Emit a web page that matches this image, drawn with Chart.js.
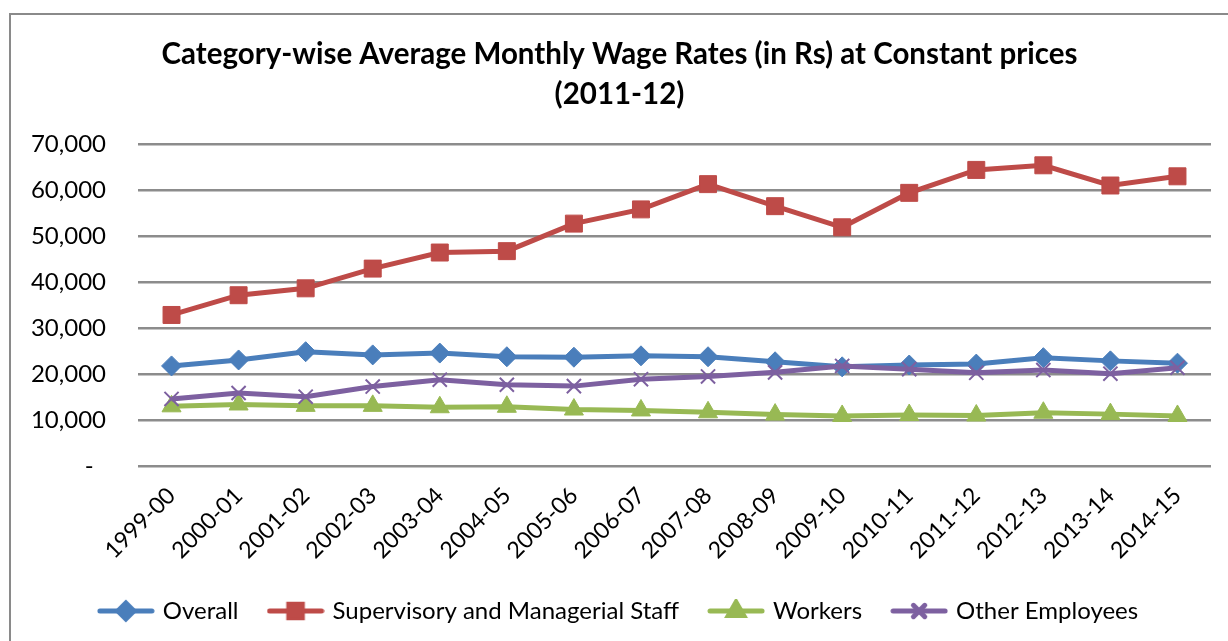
<!DOCTYPE html>
<html>
<head>
<meta charset="utf-8">
<script src="https://cdn.jsdelivr.net/npm/chart.js@4/dist/chart.umd.min.js"></script>
<style>
  html, body { margin: 0; padding: 0; background: #fff; }
  #wrap { position: relative; width: 1228px; height: 641px; overflow: hidden; }
  #frame { position: absolute; left: 9px; top: 13px; width: 1240px; height: 700px; border: 2px solid #8a8a8a; box-sizing: border-box; }
  #c { position: absolute; left: 0; top: 0; }
</style>
</head>
<body>
<div id="wrap">
  <div id="frame"></div>
  <canvas id="c" width="1228" height="641"></canvas>
</div>
<script>
const categories = ['1999-00','2000-01','2001-02','2002-03','2003-04','2004-05','2005-06','2006-07','2007-08','2008-09','2009-10','2010-11','2011-12','2012-13','2013-14','2014-15'];
const overall     = [21800, 23100, 24900, 24200, 24600, 23800, 23700, 24000, 23800, 22700, 21600, 22000, 22200, 23600, 22900, 22400];
const supervisory = [32900, 37200, 38700, 43000, 46500, 46800, 52800, 55900, 61400, 56600, 52000, 59500, 64500, 65500, 61100, 63100];
const workers     = [13000, 13400, 13100, 13100, 12800, 12900, 12300, 12100, 11700, 11200, 10900, 11100, 11000, 11600, 11300, 10900];
const others      = [14600, 15900, 15100, 17300, 18800, 17700, 17400, 18900, 19500, 20400, 21800, 21100, 20300, 20900, 20100, 21400];
const seriesNames = ['Overall', 'Supervisory and Managerial Staff', 'Workers', 'Other Employees'];
const yTicks = [0, 10000, 20000, 30000, 40000, 50000, 60000, 70000];
const titleLines = ['Category-wise Average Monthly Wage Rates (in Rs) at Constant prices', '(2011-12)'];

const FONT = 'Lato, "Open Sans", sans-serif';
const colors = ['#4A7EBB', '#BE4B48', '#98B954', '#7D60A0'];
const styles = ['rectRot', 'rect', 'triangle', 'crossRot'];
const radii = [10, 12, 11, 10];
const PAD_L = 28, PAD_R = 17, PAD_B = 8;
const PLOT_LEFT = 138, PLOT_BOTTOM = 466;

function makeIcon(color, style, r) {
  const c = document.createElement('canvas');
  c.width = 58; c.height = 24;
  const ctx = c.getContext('2d');
  ctx.strokeStyle = color; ctx.fillStyle = color; ctx.lineWidth = 5; ctx.lineCap = 'round';
  ctx.beginPath(); ctx.moveTo(3, 12); ctx.lineTo(55, 12); ctx.stroke();
  Chart.helpers.drawPoint(ctx, {pointStyle: style, radius: r, borderWidth: style === 'crossRot' ? 2 : 1, rotation: 0}, 29, 12);
  if (style !== 'crossRot') ctx.fill();
  return c;
}

const data = [overall, supervisory, workers, others];
const datasets = data.map((d, i) => ({
  label: seriesNames[i],
  data: d,
  borderColor: colors[i],
  backgroundColor: colors[i],
  borderWidth: 5,
  pointStyle: styles[i],
  pointRadius: radii[i],
  pointBorderWidth: i === 3 ? 2 : 1,
  pointBorderColor: colors[i],
  pointBackgroundColor: colors[i],
  tension: 0,
  order: 3 - i
}));

new Chart(document.getElementById('c'), {
  type: 'line',
  data: { labels: categories, datasets: datasets },
  options: {
    responsive: false,
    animation: false,
    layout: { padding: { left: PAD_L, right: PAD_R, top: 0, bottom: PAD_B } },
    plugins: {
      tooltip: { enabled: false },
      title: {
        display: true,
        text: titleLines,
        color: '#000',
        font: { family: FONT, size: 29.5, weight: 'bold', lineHeight: 1.35 },
        padding: { top: 35, bottom: 30 }
      },
      legend: {
        position: 'bottom',
        labels: {
          color: '#000',
          font: { family: FONT, size: 24 },
          usePointStyle: true,
          pointStyleWidth: 50,
          padding: 32,
          sort: (a, b) => a.datasetIndex - b.datasetIndex,
          generateLabels: (chart) => {
            const items = Chart.defaults.plugins.legend.labels.generateLabels(chart);
            items.forEach(it => { it.pointStyle = makeIcon(colors[it.datasetIndex], styles[it.datasetIndex], radii[it.datasetIndex] * 0.8); });
            return items;
          }
        }
      }
    },
    scales: {
      x: {
        offset: true,
        grid: { display: false },
        border: { display: false },
        afterFit: (scale) => {
          const lh = scale.chart.legend ? scale.chart.legend.height : 0;
          scale.height = scale.chart.height - PLOT_BOTTOM - lh - PAD_B;
        },
        ticks: {
          color: '#000',
          font: { family: FONT, size: 23 },
          maxRotation: 45, minRotation: 45,
          padding: 8,
          autoSkip: false
        }
      },
      y: {
        min: 0, max: 70000,
        afterBuildTicks: (scale) => { scale.ticks = yTicks.map(v => ({ value: v })); },
        afterFit: (scale) => { scale.width = PLOT_LEFT - PAD_L; },
        grid: { color: '#8c8c8c', lineWidth: 2.5, drawTicks: false },
        border: { display: false },
        ticks: {
          color: '#000',
          font: { family: FONT, size: 24 },
          padding: 32,
          callback: (v) => v === 0 ? '-  ' : v.toLocaleString('en-US')
        }
      }
    }
  }
});
</script>
</body>
</html>
